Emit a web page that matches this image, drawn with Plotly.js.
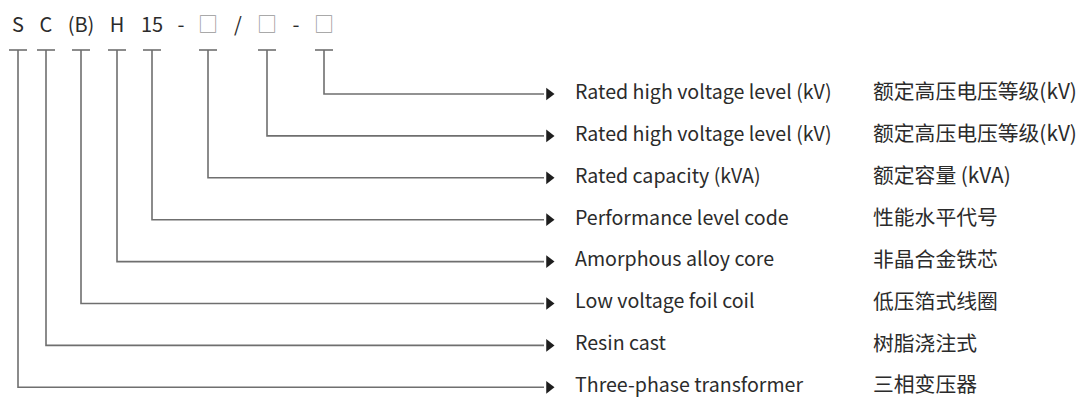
<!DOCTYPE html>
<html><head><meta charset="utf-8">
<script src="https://cdn.plot.ly/plotly-3.0.1.min.js"></script>
<style>html,body{margin:0;padding:0;background:#fff}#chart{width:1083px;height:400px}</style>
</head><body><div id="chart"></div>
<script>
// Model code characters (top row)
const codes = ['S','C','(B)','H','15','-','\u25A1','/','\u25A1','-','\u25A1'];
// Which code characters have a stem (index into codes), listed from top row of descriptions downward
const stemCodeIndex = [10, 8, 6, 4, 3, 2, 1, 0];
const englishLabels = [
  'Rated high voltage level (kV)',
  'Rated high voltage level (kV)',
  'Rated capacity (kVA)',
  'Performance level code',
  'Amorphous alloy core',
  'Low voltage foil coil',
  'Resin cast',
  'Three-phase transformer'
];
const chineseLabels = [
  '额定高压电压等级(kV)',
  '额定高压电压等级(kV)',
  '额定容量 (kVA)',
  '性能水平代号',
  '非晶合金铁芯',
  '低压箔式线圈',
  '树脂浇注式',
  '三相变压器'
];

// ---- layout geometry (pixel coordinates) ----
const codeX = [18,46,81,117,152,181,208,238,267,296,324];
const codeY = 27;
const barY = 50, barHalf = 9;
const rowY0 = 94, rowStep = 41.9;
const arrowX = 552, enX = 575, cnX = 873;
const lineColor = '#6f6f6f', textColor = '#2b2b2b';
const font = 'Noto Sans CJK SC, Noto Sans, sans-serif';

const traces = [];
// code text
traces.push({
  x: codeX, y: codes.map(()=>codeY), mode: 'text', text: codes,
  textposition: 'middle center', hoverinfo: 'skip',
  textfont: {family: font, size: 20, color: codes.map(c => c === '\u25A1' ? '#9a9a9a' : textColor)}
});
// connector lines
const lx = [], ly = [];
stemCodeIndex.forEach((ci, r) => {
  const sx = codeX[ci], ry = rowY0 + r*rowStep;
  lx.push(sx-barHalf, sx+barHalf, null, sx, sx, arrowX-8, null);
  ly.push(barY, barY, null, barY, ry, ry, null);
});
traces.push({x: lx, y: ly, mode: 'lines', line: {color: lineColor, width: 1.6}, hoverinfo: 'skip'});
// arrow heads
const rowYs = stemCodeIndex.map((c, r) => rowY0 + r*rowStep);
traces.push({x: rowYs.map(()=>arrowX-3), y: rowYs, mode: 'markers', hoverinfo: 'skip',
  marker: {symbol: 'triangle-right', size: 11, color: '#1e1e1e', line: {width: 0}}});
// English labels
traces.push({x: rowYs.map(()=>enX), y: rowYs, mode: 'text', text: englishLabels,
  textposition: 'middle right', hoverinfo: 'skip',
  textfont: {family: font, size: 19.6, color: textColor}});
// Chinese labels
traces.push({x: rowYs.map(()=>cnX), y: rowYs, mode: 'text', text: chineseLabels,
  textposition: 'middle right', hoverinfo: 'skip',
  textfont: {family: font, size: 20.8, color: textColor}});

Plotly.newPlot('chart', traces, {
  width: 1083, height: 400, margin: {l:0, r:0, t:0, b:0},
  paper_bgcolor: '#fff', plot_bgcolor: '#fff', showlegend: false,
  xaxis: {range: [0,1083], visible: false, fixedrange: true},
  yaxis: {range: [400,0], visible: false, fixedrange: true}
}, {staticPlot: true});
</script></body></html>
